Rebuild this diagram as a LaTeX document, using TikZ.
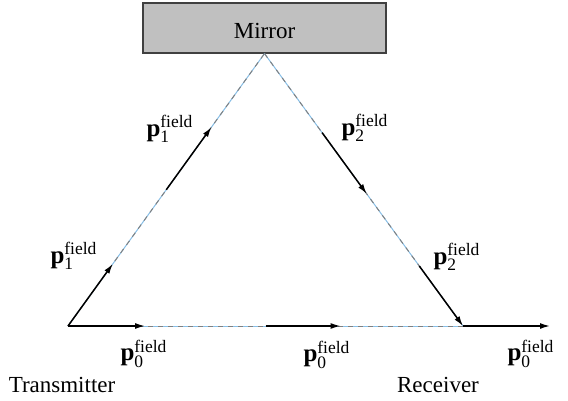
\documentclass[tikz,border=0pt]{standalone}
\usepackage{amsmath}
\usepackage{fontspec}
\setmainfont{Liberation Serif}
\usetikzlibrary{arrows.meta,calc}
\definecolor{mirrorgray}{RGB}{192,192,192}
\definecolor{raysky}{RGB}{135,190,230}
\newcommand{\pfield}[1]{\textbf{p}$^{\text{field}}_{\text{#1}}$}
\begin{document}
\begin{tikzpicture}[x=0.5pt,y=-0.5pt,font=\fontsize{11.5}{13}\selectfont,
  mirrorbox/.style={draw=black!75,line width=0.6pt,fill=mirrorgray,minimum width=121.5pt,minimum height=25pt,inner sep=0pt,text height=11pt},
  rayline/.style={draw=raysky,line width=0.5pt},
  raydash/.style={draw=gray,line width=0.5pt,dash pattern=on 2.5pt off 2.5pt},
  fieldarrow/.style={draw=black,line width=0.75pt,-{Latex[length=5pt,width=3pt]}},
  fieldlabel/.style={inner sep=0pt,font=\fontsize{12.5}{14}\selectfont},
  endlabel/.style={inner sep=0pt}]
\useasboundingbox (0,0) rectangle (568,401);
% mirror and the three corners of the path
\node[mirrorbox] (M) at (264.5,28) {Mirror};
\coordinate (A) at (M.south);
\coordinate (T) at (68,326);
\coordinate (R) at (463,326);
\coordinate (E) at (550,326);
% path of the field: light base line with grey dashes
\foreach \a/\b in {T/A,A/R,T/R}{
  \draw[rayline] (\a) -- (\b);
  \draw[raydash] (\a) -- (\b);
}
% split points along each leg
\coordinate (U1) at ($(T)!0.228!(A)$);
\coordinate (U2) at ($(T)!0.50!(A)$);
\coordinate (U3) at ($(T)!0.73!(A)$);
\coordinate (D1) at ($(A)!0.29!(R)$);
\coordinate (D2) at ($(A)!0.515!(R)$);
\coordinate (D3) at ($(A)!0.78!(R)$);
\coordinate (B1) at ($(T)!0.195!(R)$);
\coordinate (B2) at ($(T)!0.50!(R)$);
\coordinate (B3) at ($(T)!0.69!(R)$);
% field vectors
\draw[fieldarrow] (T) -- (U1);
\draw[fieldarrow] (U2) -- (U3);
\draw[fieldarrow] (D1) -- (D2);
\draw[fieldarrow] (D3) -- (R);
\draw[fieldarrow] (T) -- (B1);
\draw[fieldarrow] (B2) -- (B3);
\draw[fieldarrow] (R) -- (E);
% labels
\node[fieldlabel] (l1a) at (74,256) {\pfield{1}};
\node[fieldlabel] (l1b) at (170,129) {\pfield{1}};
\node[fieldlabel] (l2a) at (365,128) {\pfield{2}};
\node[fieldlabel] (l2b) at (457,257) {\pfield{2}};
\node[fieldlabel] (l0a) at (144,354) {\pfield{0}};
\node[fieldlabel] (l0b) at (327,355) {\pfield{0}};
\node[fieldlabel] (l0c) at (531,354) {\pfield{0}};
\node[endlabel] (tx) at (62,385) {Transmitter};
\node[endlabel] (rx) at (438,385) {Receiver};
\end{tikzpicture}
\end{document}
